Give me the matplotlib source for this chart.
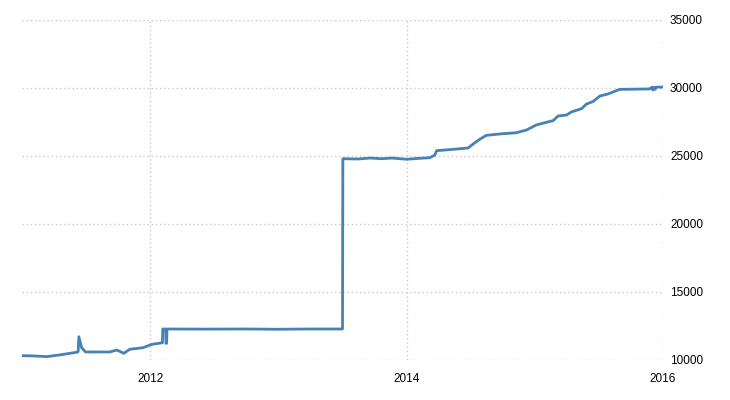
import matplotlib
matplotlib.use("Agg")
import matplotlib.pyplot as plt
import matplotlib.dates as mdates
import pandas as pd

dates = [
    "2011-01-01", "2011-02-01", "2011-03-13", "2011-04-20", "2011-06-06", "2011-06-10",
    "2011-06-12", "2011-06-20", "2011-07-01", "2011-09-08", "2011-09-28", "2011-10-18",
    "2011-11-04", "2011-12-11", "2012-01-06", "2012-02-05", "2012-02-06", "2012-02-14",
    "2012-02-15", "2012-02-17", "2012-02-18", "2012-06-01", "2012-10-01", "2013-01-01",
    "2013-04-01", "2013-07-02", "2013-07-03", "2013-08-15", "2013-09-20", "2013-10-20",
    "2013-11-20", "2014-01-01", "2014-02-07", "2014-03-08", "2014-03-22", "2014-03-27",
    "2014-05-13", "2014-06-25", "2014-07-09", "2014-07-28", "2014-08-16", "2014-09-23",
    "2014-11-09", "2014-12-08", "2015-01-05", "2015-02-03", "2015-02-22", "2015-03-08",
    "2015-04-01", "2015-04-15", "2015-05-14", "2015-05-28", "2015-06-16", "2015-07-05",
    "2015-07-28", "2015-08-31", "2015-11-24", "2015-11-30", "2015-12-03", "2015-12-05",
    "2015-12-10", "2015-12-12", "2015-12-28",
]
values = [
    10320, 10300, 10250, 10380, 10570, 10620,
    11710, 10900, 10590, 10590, 10735, 10490,
    10790, 10900, 11150, 11270, 12280, 12280,
    11225, 11225, 12280, 12270, 12280, 12260,
    12280, 12280, 24800, 24780, 24850, 24800,
    24850, 24760, 24830, 24875, 25070, 25390,
    25490, 25590, 25880, 26230, 26520, 26620,
    26710, 26910, 27280, 27480, 27600, 27940,
    28010, 28240, 28480, 28820, 29010, 29410,
    29560, 29900, 29930, 30050, 29850, 30050,
    29900, 30060, 30070,
]
x_labels = ["2012", "2014", "2016"]
y_ticks = [10000, 15000, 20000, 25000, 30000, 35000]

dt = pd.to_datetime(dates)

fig = plt.figure(figsize=(7.3, 4.0), dpi=100)
ax = fig.add_axes([22 / 730, 40 / 400, (663 - 22) / 730, 340 / 400])
ax.plot(dt, values, color="#4682b4", linewidth=2.0, solid_joinstyle="round")

ax.set_xlim(pd.Timestamp("2011-01-01"), pd.Timestamp("2016-01-01"))
ax.set_ylim(10000, 35000)
ax.set_xticks([pd.Timestamp(f"{s}-01-01") for s in x_labels])
ax.set_xticklabels(x_labels)
ax.set_yticks(y_ticks)
ax.set_yticklabels([str(v) for v in y_ticks])
ax.yaxis.tick_right()
for s in ax.spines.values():
    s.set_visible(False)
ax.grid(True, color="#c8c8c8", linestyle=(0, (1, 2)), linewidth=1.0)
ax.set_axisbelow(True)
ax.tick_params(axis="both", length=0, labelsize=8.5, labelcolor="#000000")
ax.tick_params(axis="y", pad=5)
ax.tick_params(axis="x", pad=9)
for lab in ax.get_xticklabels() + ax.get_yticklabels():
    lab.set_family(["Liberation Sans", "DejaVu Sans"])

fig.savefig("out.png", dpi=100)
